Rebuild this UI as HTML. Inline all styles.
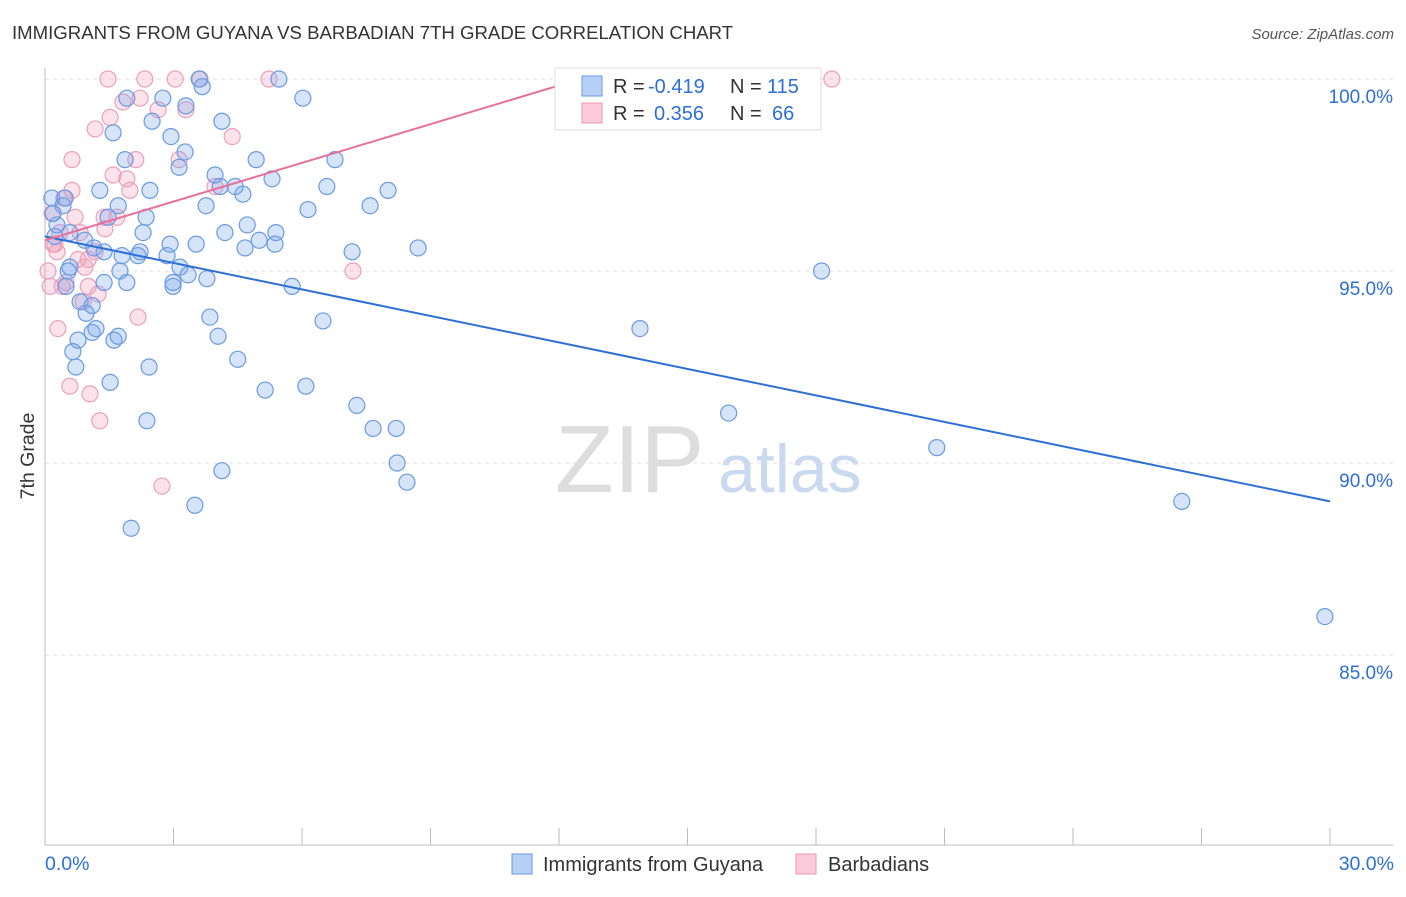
<!DOCTYPE html>
<html><head><meta charset="utf-8"><style>
body{margin:0;background:#fff;font-family:"Liberation Sans",sans-serif;}
svg text{font-family:"Liberation Sans",sans-serif;}
</style></head><body>
<svg id="c" width="1406" height="892">
<text x="12" y="39" font-size="18.6" fill="#333">IMMIGRANTS FROM GUYANA VS BARBADIAN 7TH GRADE CORRELATION CHART</text>
<text x="1394" y="39" font-size="15" fill="#555" text-anchor="end" font-style="italic">Source: ZipAtlas.com</text>
<text x="555" y="492" font-size="96" fill="#ddd" font-family="Liberation Serif">ZIP</text>
<text x="718" y="492" font-size="68" fill="#c9d9f0">atlas</text>
<g id="grid"></g><g id="pts"></g><g id="lines"></g>
<text transform="translate(34,456) rotate(-90)" font-size="19.5" fill="#333" text-anchor="middle">7th Grade</text>
<g>
<rect x="555" y="68" width="266" height="62" fill="#fff" stroke="#ddd"/>
<rect x="582" y="76" width="20" height="20" fill="#b7d0f5" stroke="#6b9ae0"/>
<rect x="582" y="103" width="20" height="20" fill="#fbcadb" stroke="#e89ab5"/>
<text x="613" y="93" font-size="20" fill="#333">R =</text>
<text x="648" y="93" font-size="20" fill="#2d6fd6">-0.419</text>
<text x="730" y="93" font-size="20" fill="#333">N =</text>
<text x="767" y="93" font-size="20" fill="#2d6fd6">115</text>
<text x="613" y="120" font-size="20" fill="#333">R =</text>
<text x="654" y="120" font-size="20" fill="#2d6fd6">0.356</text>
<text x="730" y="120" font-size="20" fill="#333">N =</text>
<text x="772" y="120" font-size="20" fill="#2d6fd6">66</text>
</g>
<g>
<rect x="512" y="854" width="20" height="20" fill="#b7d0f5" stroke="#6b9ae0"/>
<text x="543" y="871" font-size="20" fill="#333">Immigrants from Guyana</text>
<rect x="796" y="854" width="20" height="20" fill="#fbcadb" stroke="#e89ab5"/>
<text x="828" y="871" font-size="20" fill="#333">Barbadians</text>
</g>
</svg>
<script>
const yTicks=[100,95,90,85];
const xTickLabels=["0.0%","30.0%"];
const blueX=[0.16,0.28,0.23,0.42,0.47,0.19,0.58,0.54,0.49,0.58,0.65,0.72,0.77,0.82,0.93,0.96,1.1,1.1,1.19,1.14,1.28,1.38,1.38,1.47,1.52,1.59,1.61,1.71,1.71,1.75,1.8,1.87,1.91,1.91,2.01,2.17,2.22,2.29,2.36,2.38,2.43,2.45,2.5,2.75,2.85,2.92,2.94,2.99,2.99,3.13,3.15,3.27,3.29,3.34,3.5,3.53,3.6,3.67,3.76,3.78,3.85,3.97,4.04,4.09,4.13,4.13,4.2,4.44,4.5,4.62,4.67,4.72,4.93,5,5.14,5.3,5.37,5.39,5.46,5.77,6.02,6.09,6.14,6.49,6.58,6.77,7.17,7.28,7.59,7.66,8.01,8.2,8.22,8.45,8.71,13.89,15.96,18.13,20.82,26.54,29.88];
const blueY=[96.9,96.2,95.9,96.7,96.9,96.5,96.0,95.0,94.6,95.1,92.9,92.5,93.2,94.2,95.8,93.9,93.4,94.1,93.5,95.6,97.1,95.5,94.7,96.4,92.1,98.6,93.2,93.3,96.7,95.0,95.4,97.9,94.7,99.5,88.3,95.4,95.5,96.0,96.4,91.1,92.5,97.1,98.9,99.5,95.4,95.7,98.5,94.6,94.7,97.7,95.1,98.1,99.3,94.9,88.9,95.7,100,99.8,96.7,94.8,93.8,97.5,93.3,97.2,98.9,89.8,96.0,97.2,92.7,97.0,95.6,96.2,97.9,95.8,91.9,97.4,95.7,96.0,100,94.6,99.5,92.0,96.6,93.7,97.2,97.9,95.5,91.5,96.7,90.9,97.1,90.9,90.0,89.5,95.6,93.5,91.3,95.0,90.4,89.0,86.0];
const pinkX=[0.16,0.12,0.07,0.23,0.3,0.35,0.4,0.49,0.58,0.63,0.63,0.7,0.82,0.89,0.93,1.01,1.05,1.17,1.17,1.24,1.28,1.38,1.47,1.52,1.59,1.68,1.82,1.91,1.98,2.12,2.17,2.22,2.33,2.64,2.73,3.04,3.13,3.29,3.62,3.97,4.37,5.23,7.19,18.37,1.4,0.44,0.28,0.19,0.77,1.01];
const pinkY=[96.5,94.6,95.0,95.7,93.5,96.0,94.6,94.7,92.0,97.9,97.1,96.4,96.0,94.2,95.1,95.3,91.8,98.7,95.5,94.4,91.1,96.4,100,99.0,97.5,96.4,99.4,97.4,97.1,97.9,93.8,99.5,100,99.2,89.4,100,97.9,99.2,100,97.2,98.5,100,95.0,100,96.1,96.9,95.5,95.7,95.3,94.6];
const L=45,R=1330,T=79,B=845;
const sx=v=>L+v/30*(R-L);
const sy=v=>T+(100-v)/5*192;
const NS="http://www.w3.org/2000/svg";
function mk(tag,attrs,parent){const e=document.createElementNS(NS,tag);for(const k in attrs)e.setAttribute(k,attrs[k]);parent.appendChild(e);return e;}
const grid=document.getElementById('grid');
yTicks.forEach(v=>{
 const g=mk('line',{x1:L,x2:1393,y1:sy(v),y2:sy(v),stroke:'#e0e0e0','stroke-dasharray':'4,4'},grid);
 
 
 const t=mk('text',{x:1393,y:sy(v)+24,'font-size':19,fill:'#2d6fd6','text-anchor':'end'},grid);
 t.textContent=v.toFixed(1)+'%';
 
 
});
mk('line',{x1:L,x2:L,y1:68,y2:B,stroke:'#bbb'},grid);
mk('line',{x1:L,x2:1393,y1:B,y2:B,stroke:'#bbb'},grid);
for(let i=0;i<=10;i++){const x=sx(i*3);const tk=mk('line',{x1:x,x2:x,y1:828,y2:B,stroke:'#bbb'},grid);
 
 }
const xl0=mk('text',{x:45,y:870,'font-size':19.5,fill:'#2d6fd6'},grid);xl0.textContent=xTickLabels[0];


const xl1=mk('text',{x:1394,y:870,'font-size':19.5,fill:'#2d6fd6','text-anchor':'end'},grid);xl1.textContent=xTickLabels[1];


const pts=document.getElementById('pts');
pinkX.forEach((v,i)=>{const c=mk('circle',{cx:sx(v),cy:sy(pinkY[i]),r:8,fill:'rgba(242,160,190,0.3)',stroke:'#eaa0bb','stroke-width':1.2},pts);
 
 });
blueX.forEach((v,i)=>{const c=mk('circle',{cx:sx(v),cy:sy(blueY[i]),r:8,fill:'rgba(120,165,235,0.3)',stroke:'#6b9ae0','stroke-width':1.2},pts);
 
 });
const lines=document.getElementById('lines');
const bl=mk('line',{x1:sx(0),y1:sy(95.9),x2:sx(30),y2:sy(89.0),stroke:'#2d6fd6','stroke-width':2},lines);


const pl=mk('line',{x1:sx(0),y1:sy(95.8),x2:sx(12.5),y2:sy(100),stroke:'#e8709a','stroke-width':2},lines);


</script>
</body></html>
